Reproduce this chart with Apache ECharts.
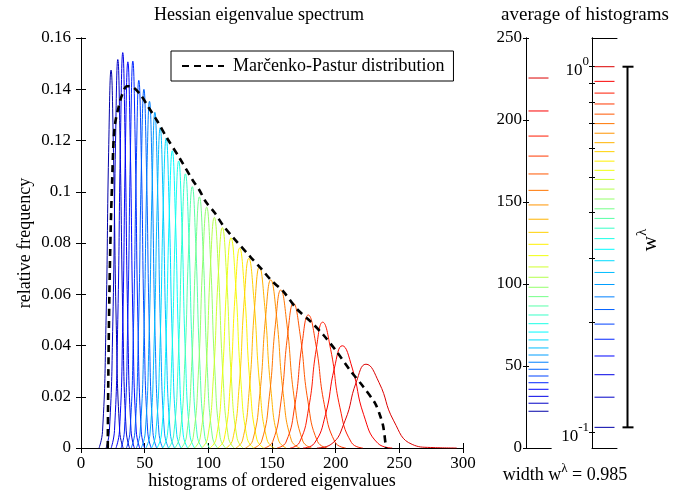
<!DOCTYPE html>
<html><head><meta charset="utf-8">
<script src="https://cdn.jsdelivr.net/npm/echarts@6/dist/echarts.min.js"></script>
<style>html,body{margin:0;padding:0;background:#fff}#c{width:674px;height:493px}</style>
</head><body><div id="c"></div>
<script>
const FONT = "'Liberation Serif','Times New Roman',serif";

// Histograms of ordered eigenvalues: [eigenvalue, relative frequency]
const histograms = [
 [[14.2,0],[16.9,0.0065],[19.6,0.0479],[21.7,0.1154],[23.6,0.1475],[25.5,0.1154],[27.7,0.0479],[30.4,0.0065],[33.1,0]],
 [[19.7,0],[22.3,0.0067],[25.0,0.0492],[27.1,0.1187],[28.9,0.1516],[30.7,0.1187],[32.9,0.0492],[35.5,0.0067],[38.1,0]],
 [[23.7,0],[26.3,0.0068],[28.9,0.0501],[31.0,0.1208],[32.8,0.1543],[34.6,0.1208],[36.7,0.0501],[39.3,0.0068],[41.9,0]],
 [[27.5,0],[30.2,0.0066],[32.8,0.0489],[34.9,0.1180],[36.8,0.1507],[38.7,0.1180],[40.8,0.0489],[43.4,0.0066],[46.1,0]],
 [[31.5,0],[34.1,0.0066],[36.7,0.0490],[38.9,0.1182],[40.7,0.1510],[42.6,0.1182],[44.7,0.0490],[47.3,0.0066],[49.9,0]],
 [[35.7,0],[38.5,0.0063],[41.2,0.0466],[43.5,0.1123],[45.4,0.1435],[47.4,0.1123],[49.6,0.0466],[52.4,0.0063],[55.1,0]],
 [[39.4,0],[42.3,0.0061],[45.1,0.0455],[47.4,0.1096],[49.4,0.1400],[51.4,0.1096],[53.7,0.0455],[56.5,0.0061],[59.4,0]],
 [[43.5,0],[46.4,0.0059],[49.4,0.0439],[51.7,0.1059],[53.8,0.1353],[55.9,0.1059],[58.2,0.0439],[61.2,0.0059],[64.1,0]],
 [[47.3,0],[50.4,0.0058],[53.4,0.0425],[55.9,0.1025],[58.0,0.1310],[60.1,0.1025],[62.6,0.0425],[65.6,0.0058],[68.7,0]],
 [[51.0,0],[54.2,0.0055],[57.4,0.0406],[60.0,0.0978],[62.2,0.1250],[64.4,0.0978],[67.0,0.0406],[70.2,0.0055],[73.4,0]],
 [[55.4,0],[58.7,0.0053],[62.0,0.0393],[64.6,0.0947],[66.9,0.1210],[69.2,0.0947],[71.9,0.0393],[75.2,0.0053],[78.5,0]],
 [[59.7,0],[63.1,0.0051],[66.5,0.0377],[69.3,0.0908],[71.7,0.1160],[74.1,0.0908],[76.9,0.0377],[80.3,0.0051],[83.7,0]],
 [[64.2,0],[67.8,0.0049],[71.4,0.0364],[74.2,0.0877],[76.7,0.1120],[79.2,0.0877],[82.0,0.0364],[85.6,0.0049],[89.2,0]],
 [[68.9,0],[72.7,0.0047],[76.4,0.0347],[79.4,0.0837],[82.0,0.1070],[84.6,0.0837],[87.6,0.0347],[91.3,0.0047],[95.1,0]],
 [[73.7,0],[77.6,0.0045],[81.5,0.0331],[84.7,0.0798],[87.4,0.1020],[90.1,0.0798],[93.3,0.0331],[97.2,0.0045],[101.1,0]],
 [[78.8,0],[82.8,0.0043],[86.9,0.0318],[90.2,0.0767],[93.0,0.0980],[95.9,0.0767],[99.1,0.0318],[103.2,0.0043],[107.3,0]],
 [[83.9,0],[88.1,0.0041],[92.3,0.0305],[95.7,0.0736],[98.7,0.0940],[101.7,0.0736],[105.1,0.0305],[109.3,0.0041],[113.5,0]],
 [[89.2,0],[93.6,0.0040],[98.1,0.0292],[101.6,0.0704],[104.7,0.0900],[107.8,0.0704],[111.4,0.0292],[115.8,0.0040],[120.2,0]],
 [[94.8,0],[99.4,0.0038],[104.0,0.0279],[107.8,0.0673],[111.0,0.0860],[114.3,0.0673],[118.0,0.0279],[122.6,0.0038],[127.2,0]],
 [[101.4,0],[106.1,0.0036],[110.8,0.0266],[114.5,0.0642],[117.8,0.0820],[121.4,0.0642],[125.5,0.0266],[130.6,0.0036],[135.7,0]],
 [[107.5,0],[112.4,0.0034],[117.3,0.0253],[121.2,0.0611],[124.6,0.0780],[128.4,0.0611],[132.7,0.0253],[138.1,0.0034],[143.5,0]],
 [[114.0,0],[119.1,0.0032],[124.2,0.0240],[128.2,0.0579],[131.8,0.0740],[135.8,0.0579],[140.4,0.0240],[146.1,0.0032],[151.8,0]],
 [[121.6,0],[126.9,0.0031],[132.2,0.0230],[136.4,0.0553],[140.1,0.0707],[144.3,0.0553],[149.1,0.0230],[155.1,0.0031],[161.1,0]],
 [[129.1,0],[134.8,0.0029],[140.5,0.0213],[145.0,0.0513],[149.0,0.0656],[153.6,0.0513],[158.8,0.0213],[165.3,0.0029],[171.8,0]],
 [[135.9,0],[141.9,0.0027],[147.9,0.0200],[152.7,0.0483],[156.9,0.0617],[161.7,0.0483],[167.3,0.0200],[174.2,0.0027],[181.1,0]],
 [[144.1,0],[150.6,0.0025],[157.1,0.0183],[162.3,0.0442],[166.8,0.0565],[172.1,0.0442],[178.2,0.0183],[185.8,0.0025],[193.4,0]],
 [[154.0,0],[161.0,0.0023],[168.0,0.0169],[173.6,0.0406],[178.5,0.0519],[184.4,0.0406],[191.1,0.0169],[199.5,0.0023],[207.9,0]],
 [[164.3,0],[171.6,0.0022],[178.9,0.0159],[184.7,0.0384],[189.8,0.0491],[196.1,0.0384],[203.3,0.0159],[212.3,0.0022],[221.3,0]],
 [[174.4,0],[183.2,0.0018],[192.0,0.0130],[199.0,0.0312],[205.2,0.0399],[213.0,0.0312],[222.0,0.0130],[233.2,0.0018],[244.4,0]],
 [[185.3,0],[196.3,0.0014],[207.3,0.0106],[216.1,0.0256],[223.8,0.0327],[234.0,0.0256],[245.6,0.0106],[260.1,0.0014],[274.6,0.0002],[295,0]]
];

// Marčenko-Pastur density
const mpName = 'Marčenko-Pastur distribution';
const mpCurve = [[21,0],[21.5,0.03],[22.3,0.06],[23.3,0.085],[24.5,0.105],[25.6,0.12],[26.9,0.127],[29.5,0.133],[32.2,0.1377],[36,0.1412],[40,0.141],[46.5,0.138],[53,0.133],[60,0.1275],[67.5,0.121],[77,0.1135],[87.6,0.1046],[92.9,0.1007],[98,0.0961],[105,0.0918],[111.4,0.087],[118.5,0.0827],[133,0.0746],[141.3,0.0701],[149.1,0.0656],[159,0.061],[169.4,0.0543],[180,0.0495],[190.4,0.0441],[200.8,0.0376],[211.2,0.0304],[221.7,0.0239],[231,0.0174],[235,0.0125],[237.4,0.0083],[239.5,0]];

// average of histograms (mean eigenvalue per histogram)
const meanValues = [22.4,27.3,31.5,35.8,39.8,43.9,48.0,52.3,56.7,61.0,65.9,70.7,75.8,81.1,86.6,92.3,98.0,104.1,110.4,117.3,124.2,131.5,139.5,148.2,157.1,167.1,178.0,190.2,205.5,225.6];
// normalised (log-scale) values
const wValues = [0.1034,0.125,0.144,0.162,0.180,0.198,0.217,0.235,0.254,0.274,0.295,0.317,0.339,0.362,0.385,0.409,0.435,0.463,0.492,0.521,0.552,0.586,0.620,0.658,0.699,0.742,0.791,0.847,0.912,1.0];
const widthLabel = 0.985;

const logTicks = [0.1,0.2,0.3,0.4,0.5,0.6,0.7,0.8,0.9,1];
const logLabels = [0.1,1];

function jet(i){
  const t = 0.04 + 0.03*i;
  const c = v => Math.round(255*Math.max(0,Math.min(1,v)));
  return 'rgb('+c(1.5-Math.abs(4*t-3))+','+c(1.5-Math.abs(4*t-2))+','+c(1.5-Math.abs(4*t-1))+')';
}

const chart = echarts.init(document.getElementById('c'), null, {renderer:'canvas'});
const txt = {fontFamily:FONT, fontSize:17, color:'#000'};
const txt18 = {fontFamily:FONT, fontSize:18, color:'#000', fontWeight:'normal'};
const line = {show:true, lineStyle:{color:'#000', width:1}};
const noLab = {show:false};
const tickIn = (len)=>({show:true, inside:true, length:len, lineStyle:{color:'#000'}});

const series = [];
histograms.forEach((d,i)=>series.push({type:'line', xAxisIndex:0, yAxisIndex:0, data:d, smooth:0.5, symbol:'none', silent:true, lineStyle:{width:1, color:jet(i)}}));
series.push({type:'line', name:mpName, xAxisIndex:0, yAxisIndex:0, data:mpCurve, smooth:0.3, symbol:'none', z:5, lineStyle:{width:2.6, color:'#000', type:[7,5]}, itemStyle:{color:'#000'}});
function segs(){
  return (params, api)=>{
    const v = api.value(1);
    const p1 = api.coord([0.1, v]), p2 = api.coord([0.9, v]);
    return {type:'line', shape:{x1:p1[0],y1:p1[1],x2:p2[0],y2:p2[1]}, style:{stroke:jet(params.dataIndex), lineWidth:1}};
  };
}
series.push({type:'custom', xAxisIndex:2, yAxisIndex:2, data:meanValues.map(v=>[0.5,v]), renderItem:segs(), silent:true});
series.push({type:'custom', xAxisIndex:4, yAxisIndex:4, data:wValues.map(v=>[0.5,v]), renderItem:segs(), silent:true});
series.push({type:'custom', xAxisIndex:4, yAxisIndex:4, clip:false, silent:true,
  data:[[0.5, wValues[wValues.length-1], wValues[0]]],
  renderItem:(params, api)=>{
    const top = api.coord([1.42, api.value(1)]), bot = api.coord([1.42, api.value(2)]);
    const x = top[0];
    const st = {stroke:'#000', lineWidth:2};
    return {type:'group', children:[
      {type:'line', shape:{x1:x,y1:top[1],x2:x,y2:bot[1]}, style:st},
      {type:'line', shape:{x1:x-5,y1:top[1],x2:x+6,y2:top[1]}, style:st},
      {type:'line', shape:{x1:x-5,y1:bot[1],x2:x+6,y2:bot[1]}, style:st},
      {type:'text', x:x+20, y:(top[1]+bot[1])/2-7, rotation:Math.PI/2,
        style:{text:'{w|w}{s|λ}', align:'center', verticalAlign:'middle',
          rich:{w:{fontFamily:FONT, fontSize:21, lineHeight:26, verticalAlign:'bottom'}, s:{fontFamily:FONT, fontSize:15, lineHeight:26, verticalAlign:'top'}}}}
    ]};
  }});

const option = {
  animation:false,
  backgroundColor:'#fff',
  title:[
    {text:'Hessian eigenvalue spectrum', left:254, top:1, textAlign:'center', textStyle:txt18},
    {text:'average of histograms', left:580, top:1, textAlign:'center', textStyle:{...txt18, fontSize:19}},
    {text:'{a|width w}{s|λ}{a| = '+widthLabel+'}', left:560, top:457, textAlign:'center',
      textStyle:{rich:{a:{fontFamily:FONT, fontSize:18, lineHeight:22, verticalAlign:'bottom', color:'#000', fontWeight:'normal'}, s:{fontFamily:FONT, fontSize:13, lineHeight:22, verticalAlign:'top', color:'#000', fontWeight:'normal'}}}}
  ],
  legend:{data:[{name:mpName}], left:171, top:51, padding:[6,9,6,10], itemWidth:42, itemHeight:14, backgroundColor:'#fff', borderColor:'#000', borderWidth:1,
    itemStyle:{opacity:0}, textStyle:{...txt18, padding:[0,0,0,4]}},
  grid:[
    {left:81, top:38, width:382, height:410, outerBoundsMode:'none', containLabel:false},
    {left:526, top:38, width:25, height:410, outerBoundsMode:'none', containLabel:false},
    {left:592, top:38, width:25, height:410, outerBoundsMode:'none', containLabel:false}
  ],
  xAxis:[
    {gridIndex:0, type:'value', min:0, max:300, interval:50, axisLine:line, axisTick:tickIn(5), splitLine:{show:false}, axisLabel:{...txt, margin:7},
      name:'histograms of ordered eigenvalues', nameLocation:'middle', nameGap:24, nameMoveOverlap:false, nameTextStyle:txt18},
    {gridIndex:0, type:'value', min:0, max:300, interval:50, position:'top', axisLine:line, axisTick:tickIn(5), splitLine:{show:false}, axisLabel:noLab},
    {gridIndex:1, type:'value', min:0, max:1, axisLine:line, axisTick:{show:false}, splitLine:{show:false}, axisLabel:noLab},
    {gridIndex:1, type:'value', min:0, max:1, position:'top', axisLine:line, axisTick:{show:false}, splitLine:{show:false}, axisLabel:noLab},
    {gridIndex:2, type:'value', min:0, max:1, axisLine:line, axisTick:{show:false}, splitLine:{show:false}, axisLabel:noLab},
    {gridIndex:2, type:'value', min:0, max:1, position:'top', axisLine:line, axisTick:{show:false}, splitLine:{show:false}, axisLabel:noLab}
  ],
  yAxis:[
    {gridIndex:0, type:'value', min:0, max:0.16, interval:0.02, axisLine:line, axisTick:tickIn(5), splitLine:{show:false}, axisLabel:{...txt, margin:10},
      name:'relative frequency', nameLocation:'middle', nameGap:47, nameMoveOverlap:false, nameTextStyle:txt18},
    {gridIndex:0, type:'value', min:0, max:0.16, interval:0.02, position:'right', axisLine:line, axisTick:tickIn(5), splitLine:{show:false}, axisLabel:noLab},
    {gridIndex:1, type:'value', min:0, max:250, interval:50, axisLine:line, axisTick:tickIn(3), splitLine:{show:false}, axisLabel:{...txt, margin:4}},
    {gridIndex:1, type:'value', min:0, max:250, interval:50, position:'right', axisLine:line, axisTick:tickIn(3), splitLine:{show:false}, axisLabel:noLab},
    {gridIndex:2, type:'log', logBase:10, min:0.0908, max:1.198, axisLine:line, splitLine:{show:false},
      axisTick:{...tickIn(3), customValues:logTicks},
      axisLabel:{customValues:logLabels, margin:3, formatter:v=> v>=0.99 ? '{b|10}{s|0}' : '{b|10}{s|-1}',
        rich:{b:{fontFamily:FONT, fontSize:17, lineHeight:24, verticalAlign:'bottom', color:'#000'}, s:{fontFamily:FONT, fontSize:13, lineHeight:24, verticalAlign:'top', color:'#000'}}}},
    {gridIndex:2, type:'log', logBase:10, min:0.0908, max:1.198, position:'right', axisLine:line, splitLine:{show:false},
      axisTick:{...tickIn(3), customValues:logTicks}, axisLabel:noLab}
  ],
  series:series
};
chart.setOption(option);
</script></body></html>
